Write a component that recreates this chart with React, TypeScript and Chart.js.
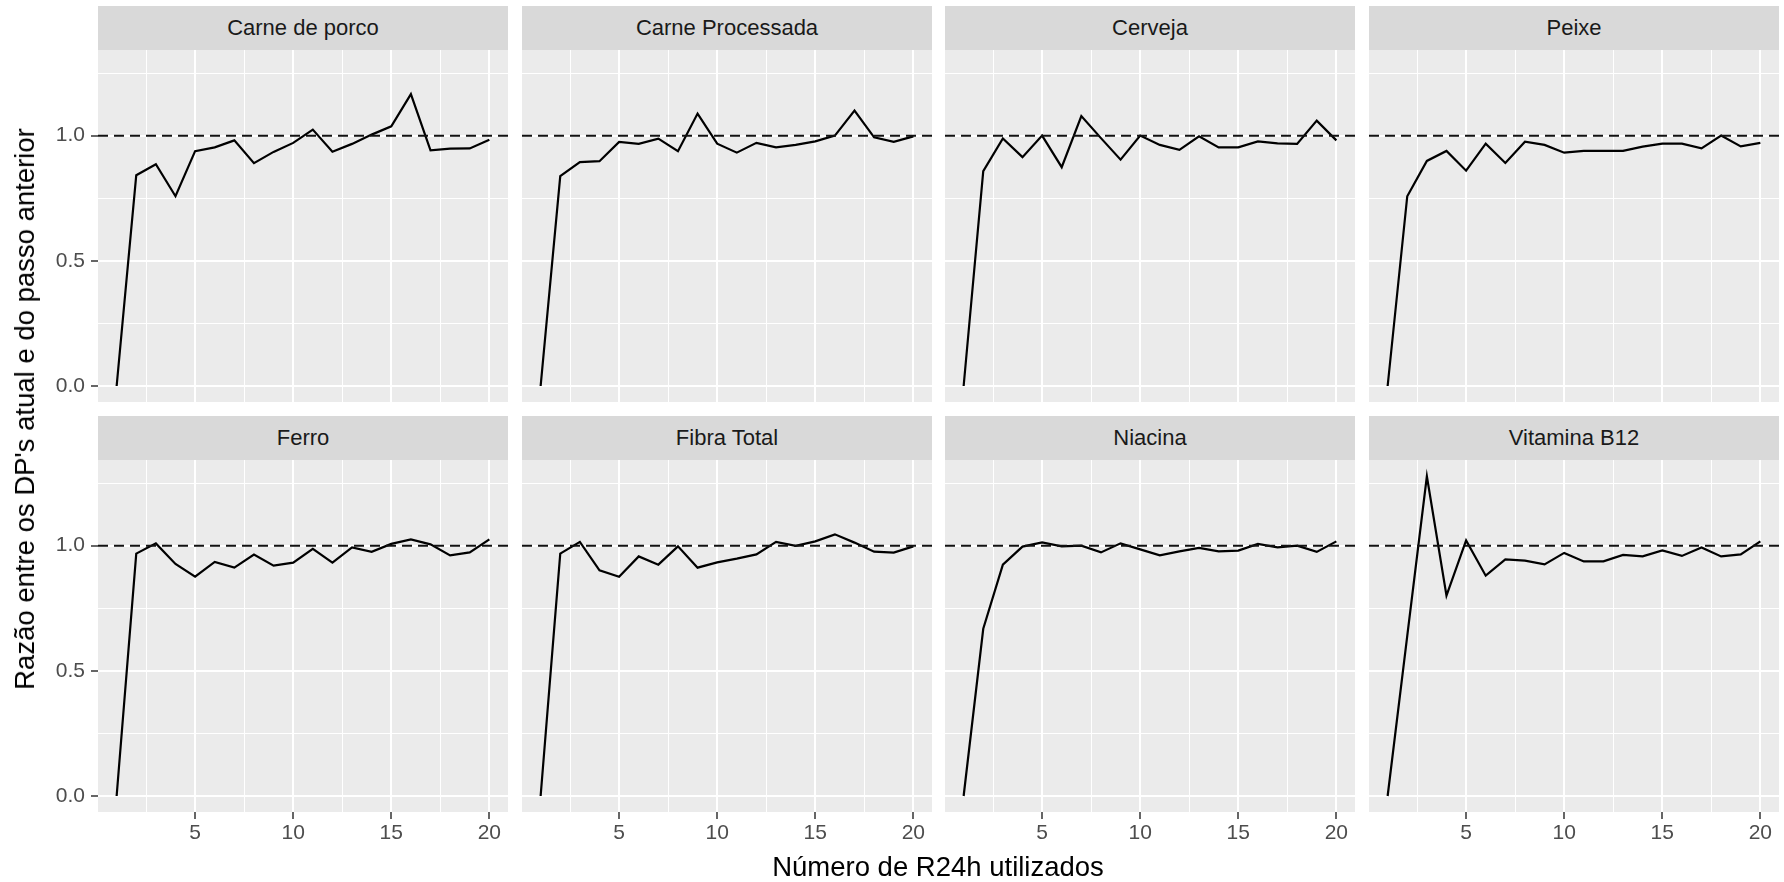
import React, { useEffect, useRef } from "react";
import { Chart, registerables } from "chart.js";

Chart.register(...registerables);

// ---------------- data ----------------
const steps = [1, 2, 3, 4, 5, 6, 7, 8, 9, 10, 11, 12, 13, 14, 15, 16, 17, 18, 19, 20];

const panelTitles = [
  "Carne de porco",
  "Carne Processada",
  "Cerveja",
  "Peixe",
  "Ferro",
  "Fibra Total",
  "Niacina",
  "Vitamina B12",
];

const carneDePorco = [0, 0.842, 0.886, 0.758, 0.938, 0.953, 0.981, 0.89, 0.935, 0.971, 1.024, 0.936, 0.967, 1.004, 1.037, 1.166, 0.941, 0.948, 0.949, 0.984];
const carneProcessada = [0, 0.838, 0.894, 0.898, 0.975, 0.967, 0.988, 0.938, 1.088, 0.968, 0.932, 0.971, 0.953, 0.963, 0.977, 1.0, 1.1, 0.993, 0.975, 0.997];
const cerveja = [0, 0.858, 0.989, 0.914, 1.0, 0.874, 1.078, 0.99, 0.904, 1.0, 0.963, 0.943, 0.997, 0.953, 0.953, 0.977, 0.969, 0.967, 1.06, 0.981];
const peixe = [0, 0.758, 0.899, 0.939, 0.86, 0.968, 0.891, 0.976, 0.963, 0.932, 0.939, 0.939, 0.939, 0.956, 0.968, 0.968, 0.949, 1.0, 0.957, 0.971];
const ferro = [0, 0.968, 1.009, 0.927, 0.876, 0.935, 0.912, 0.964, 0.92, 0.932, 0.987, 0.932, 0.993, 0.975, 1.007, 1.025, 1.005, 0.961, 0.973, 1.025];
const fibraTotal = [0, 0.968, 1.015, 0.901, 0.876, 0.957, 0.924, 0.997, 0.912, 0.933, 0.948, 0.965, 1.015, 0.999, 1.017, 1.045, 1.012, 0.976, 0.972, 0.997];
const niacina = [0, 0.668, 0.924, 0.996, 1.013, 0.997, 1.0, 0.973, 1.009, 0.985, 0.961, 0.977, 0.991, 0.977, 0.98, 1.007, 0.993, 1.0, 0.975, 1.017];
const vitaminaB12 = [0, 0.64, 1.277, 0.8, 1.021, 0.88, 0.945, 0.94, 0.925, 0.971, 0.937, 0.937, 0.963, 0.957, 0.981, 0.959, 0.993, 0.957, 0.965, 1.017];

const panelSeries = [carneDePorco, carneProcessada, cerveja, peixe, ferro, fibraTotal, niacina, vitaminaB12];

const referenceValue = 1;
const xMajorTicks = [5, 10, 15, 20];
const xMinorTicks = [2.5, 7.5, 12.5, 17.5];
const yMajorTicks = [0, 0.5, 1.0];
const yMinorTicks = [0.25, 0.75, 1.25];
const xLimits = [0.05, 20.95];
const yLimits = [-0.0639, 1.342];

const xTitle = "Número de R24h utilizados";
const yTitle = "Razão entre os DP's atual e do passo anterior";

// ---------------- layout ----------------
const FONT = '"Liberation Sans", Arial, Helvetica, sans-serif';
const colLefts = [98, 522, 945, 1369];
const plotW = 410;
const rowStripTops = [6, 416];
const stripH = 44;
const plotH = 352;
const yAxisW = 60;
const xAxisH = 45;

const bgPlugin = {
  id: "panelBg",
  beforeDraw(chart: any) {
    const { ctx, chartArea: a } = chart;
    ctx.save();
    ctx.fillStyle = "#EBEBEB";
    ctx.fillRect(a.left, a.top, a.right - a.left, a.bottom - a.top);
    ctx.restore();
  },
};

function zeroPad(s: any) {
  s.paddingLeft = 0;
  s.paddingRight = 0;
  s.paddingTop = 0;
  s.paddingBottom = 0;
}

function Panel({ idx }: { idx: number }) {
  const ref = useRef<HTMLCanvasElement | null>(null);
  const col = idx % 4;
  const row = Math.floor(idx / 4);
  const showY = col === 0;
  const showX = row === 1;
  const yW = showY ? yAxisW : 0;
  const xH = showX ? xAxisH : 0;
  const left = colLefts[col] - yW;
  const top = rowStripTops[row] + stripH;
  const width = plotW + yW;
  const height = plotH + xH;

  useEffect(() => {
    if (!ref.current) return;
    const series = panelSeries[idx];
    const chart = new Chart(ref.current, {
      type: "line",
      data: {
        datasets: [
          {
            data: [
              { x: xLimits[0], y: referenceValue },
              { x: xLimits[1], y: referenceValue },
            ],
            borderColor: "#111111",
            borderWidth: 2,
            borderDash: [10, 6],
            pointRadius: 0,
            fill: false,
          },
          {
            data: steps.map((s, i) => ({ x: s, y: series[i] })),
            borderColor: "#000000",
            borderWidth: 2.2,
            pointRadius: 0,
            tension: 0,
            fill: false,
          },
        ],
      },
      options: {
        animation: false,
        responsive: false,
        devicePixelRatio: 1,
        layout: { padding: 0 },
        plugins: {
          legend: { display: false },
          tooltip: { enabled: false },
          title: { display: false },
        },
        events: [],
        scales: {
          x: {
            type: "linear",
            min: xLimits[0],
            max: xLimits[1],
            afterBuildTicks: (s: any) => {
              s.ticks = [...xMinorTicks, ...xMajorTicks]
                .sort((a, b) => a - b)
                .map((v) => ({ value: v }));
            },
            afterFit: (s: any) => {
              s.height = xH;
              zeroPad(s);
            },
            border: { display: false },
            grid: {
              color: "#FFFFFF",
              lineWidth: (c: any) => (xMajorTicks.includes(c.tick?.value) ? 2 : 1),
              drawTicks: showX,
              tickLength: 7,
              tickWidth: 1.5,
              tickColor: (c: any) => (xMajorTicks.includes(c.tick?.value) ? "#333333" : "rgba(0,0,0,0)"),
            },
            ticks: {
              display: showX,
              autoSkip: false,
              maxRotation: 0,
              minRotation: 0,
              padding: 2,
              color: "#4D4D4D",
              font: { family: FONT, size: 21 },
              callback: (v: any) => (xMajorTicks.includes(v) ? String(v) : ""),
            },
          },
          y: {
            type: "linear",
            min: yLimits[0],
            max: yLimits[1],
            afterBuildTicks: (s: any) => {
              s.ticks = [...yMajorTicks, ...yMinorTicks]
                .sort((a, b) => a - b)
                .map((v) => ({ value: v }));
            },
            afterFit: (s: any) => {
              s.width = yW;
              zeroPad(s);
            },
            border: { display: false },
            grid: {
              color: "#FFFFFF",
              lineWidth: (c: any) => (yMajorTicks.includes(c.tick?.value) ? 2 : 1),
              drawTicks: showY,
              tickLength: 7,
              tickWidth: 1.5,
              tickColor: (c: any) => (yMajorTicks.includes(c.tick?.value) ? "#333333" : "rgba(0,0,0,0)"),
            },
            ticks: {
              display: showY,
              autoSkip: false,
              padding: 6,
              color: "#4D4D4D",
              font: { family: FONT, size: 21 },
              callback: (v: any) => (yMajorTicks.includes(v) ? Number(v).toFixed(1) : ""),
            },
          },
        },
      } as any,
      plugins: [bgPlugin],
    });
    return () => chart.destroy();
  }, [idx]);

  return (
    <>
      <div
        style={{
          position: "absolute",
          left: colLefts[col],
          top: rowStripTops[row],
          width: plotW,
          height: stripH,
          background: "#D9D9D9",
          color: "#1A1A1A",
          fontFamily: FONT,
          fontSize: 22,
          display: "flex",
          alignItems: "center",
          justifyContent: "center",
          whiteSpace: "nowrap",
        }}
      >
        {panelTitles[idx]}
      </div>
      <canvas
        ref={ref}
        width={width}
        height={height}
        style={{ position: "absolute", left, top, width, height, display: "block" }}
      />
    </>
  );
}

export default function App() {
  return (
    <div
      style={{
        position: "absolute",
        left: 0,
        top: 0,
        width: 1784,
        height: 882,
        background: "#FFFFFF",
        overflow: "hidden",
      }}
    >
      {panelTitles.map((_, i) => (
        <Panel key={i} idx={i} />
      ))}
      <div
        style={{
          position: "absolute",
          left: 938,
          top: 867,
          transform: "translate(-50%, -50%)",
          fontFamily: FONT,
          fontSize: 27.5,
          color: "#000000",
          whiteSpace: "nowrap",
        }}
      >
        {xTitle}
      </div>
      <div
        style={{
          position: "absolute",
          left: 25,
          top: 409,
          transform: "translate(-50%, -50%) rotate(-90deg)",
          fontFamily: FONT,
          fontSize: 27.5,
          color: "#000000",
          whiteSpace: "nowrap",
        }}
      >
        {yTitle}
      </div>
    </div>
  );
}
